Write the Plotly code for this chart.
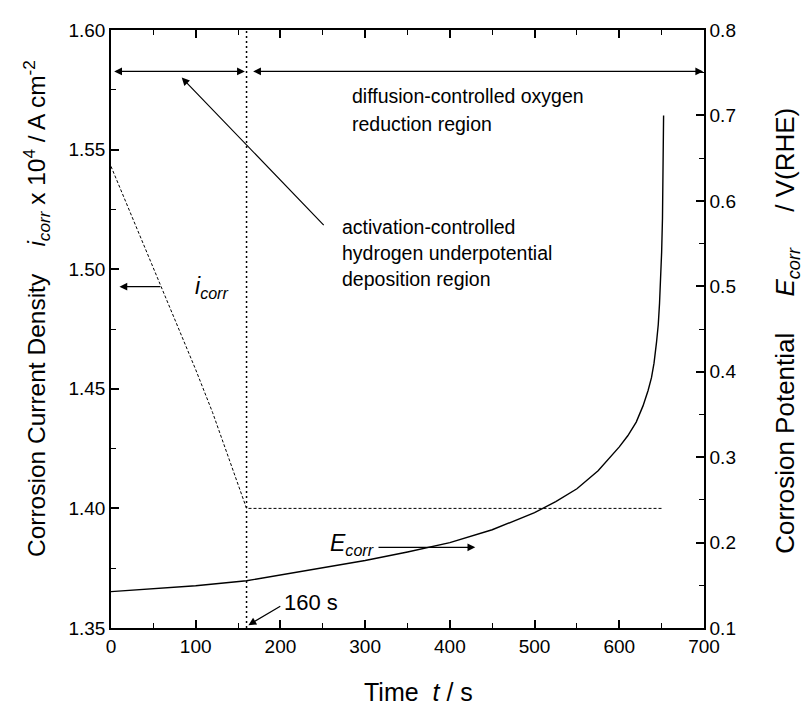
import plotly.graph_objects as go

# ---- data ----
t_icorr = [0, 20, 40, 60, 80, 100, 120, 140, 160, 650]
icorr = [1.543, 1.526, 1.5095, 1.492, 1.475, 1.458, 1.440, 1.420, 1.400, 1.400]

t_ecorr = [0, 50, 100, 160, 200, 250, 300, 350, 400, 450, 500, 525, 550, 575,
           600, 610, 620, 628, 634, 638, 641, 644, 646, 647.5, 649, 650, 651,
           651.5, 652, 652.3]
ecorr = [0.1426, 0.146, 0.1495, 0.1553, 0.162, 0.170, 0.179, 0.189, 0.200, 0.215,
         0.235, 0.248, 0.263, 0.284, 0.312, 0.325, 0.341, 0.360, 0.378, 0.393,
         0.410, 0.435, 0.455, 0.480, 0.510, 0.540, 0.580, 0.620, 0.660, 0.700]

x_ticks = [0, 100, 200, 300, 400, 500, 600, 700]
t_boundary = 160

FONT = "Liberation Sans, Arial, sans-serif"

fig = go.Figure()
fig.add_trace(go.Scatter(x=t_icorr, y=icorr, mode="lines",
                         line=dict(color="black", width=1, dash="3px,2px"),
                         yaxis="y", showlegend=False))
fig.add_trace(go.Scatter(x=t_ecorr, y=ecorr, mode="lines",
                         line=dict(color="black", width=1.4),
                         yaxis="y2", showlegend=False))

# vertical dotted boundary line
fig.add_shape(type="line", xref="x", yref="paper", x0=t_boundary, x1=t_boundary,
              y0=0, y1=1, line=dict(color="black", width=1.5, dash="2px,3px"))

ann = []
def arrow(x, y, ax, ay, yref="y", both=False):
    ann.append(dict(x=x, y=y, ax=ax, ay=ay, xref="x", yref=yref, axref="x",
                    ayref=yref, text="", showarrow=True, arrowhead=2,
                    arrowsize=1.3, arrowwidth=1.2, arrowcolor="black",
                    arrowside="end+start" if both else "end"))

def text(x, y, s, size=19.5, xanchor="left", yref="y"):
    ann.append(dict(x=x, y=y, xref="x", yref=yref, text=s, showarrow=False,
                    xanchor=xanchor, yanchor="middle",
                    font=dict(family=FONT, size=size, color="black")))

# region arrows at top
arrow(158, 1.5827, 2, 1.5827, both=True)
arrow(699, 1.5827, 166, 1.5827, both=True)
# diagonal pointer
arrow(83.5, 1.5801, 252.8, 1.5178)
# i_corr pointer
arrow(10, 1.4927, 60, 1.4927)
# E_corr pointer
arrow(430, 0.1944, 314, 0.1944, yref="y2")
# 160 s pointer
arrow(162.2, 1.3512, 201.6, 1.3595)

text(282.3, 1.5726, "diffusion-controlled oxygen")
text(282.3, 1.5609, "reduction region")
text(270.5, 1.5178, "activation-controlled")
text(270.5, 1.5068, "hydrogen underpotential")
text(270.5, 1.4960, "deposition region")
text(236.2, 1.3607, "160 s", size=22, xanchor="center")
text(97, 1.4925, "<i>i</i><sub><i>corr</i></sub>", size=23)
text(313, 0.198, "<i>E</i><sub><i>corr</i></sub>", size=23, xanchor="right", yref="y2")

NB = "\u00a0"
# axis titles
ann.append(dict(xref="paper", yref="paper", x=-0.1265, y=0.535, showarrow=False,
                textangle=-90, xanchor="center", yanchor="middle",
                text="Corrosion Current Density" + NB * 4 + "<i>i</i><sub><i>corr</i></sub> x 10<sup>4</sup> / A cm<sup>-2</sup>",
                font=dict(family=FONT, size=24.5, color="black")))
ann.append(dict(xref="paper", yref="paper", x=1.14, y=0.497, showarrow=False,
                textangle=-90, xanchor="center", yanchor="middle",
                text="Corrosion Potential" + NB * 5 + "<i>E</i><sub><i>corr</i></sub>" + NB * 5 + "/ V(RHE)",
                font=dict(family=FONT, size=26, color="black")))
ann.append(dict(xref="paper", yref="paper", x=0.519, y=-0.107, showarrow=False,
                xanchor="center", yanchor="middle",
                text="Time" + NB * 2 + "<i>t</i> / s",
                font=dict(family=FONT, size=25, color="black")))

axis_common = dict(showgrid=False, zeroline=False, showline=True, linecolor="black",
                   linewidth=1.5, ticks="inside", ticklen=8, tickwidth=1.5,
                   tickcolor="black", tickfont=dict(family=FONT, size=19, color="black"))

# page body has an 8px margin: shrink figure so the plot area lands where intended
fig.update_layout(
    width=802, height=699,
    margin=dict(l=103, r=106, t=12, b=79),
    plot_bgcolor="white", paper_bgcolor="white",
    xaxis=dict(range=[0, 700], tickvals=x_ticks, mirror="ticks",
               minor=dict(dtick=50, ticks="inside", ticklen=5, tickwidth=1.2, tickcolor="black"),
               **axis_common),
    yaxis=dict(range=[1.35, 1.60], dtick=0.05, tickformat=".2f",
               minor=dict(dtick=0.025, ticks="inside", ticklen=5, tickwidth=1.2, tickcolor="black"),
               **axis_common),
    yaxis2=dict(range=[0.1, 0.8], dtick=0.1, tickformat=".1f", overlaying="y", side="right",
                minor=dict(dtick=0.05, ticks="inside", ticklen=5, tickwidth=1.2, tickcolor="black"),
                **axis_common),
    annotations=ann,
    font=dict(family=FONT, color="black"),
)

fig.write_html("out.html")
